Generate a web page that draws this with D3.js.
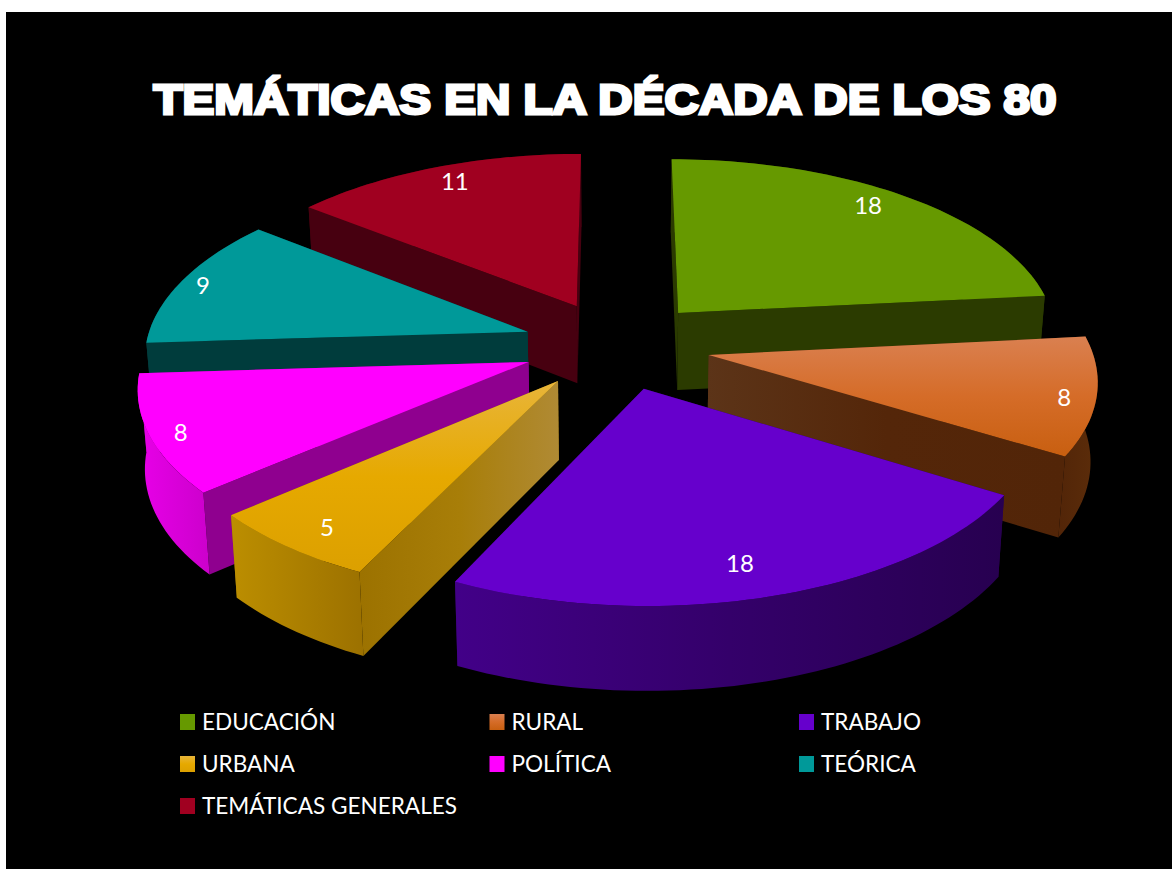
<!DOCTYPE html>
<html>
<head>
<meta charset="utf-8">
<script src="https://cdn.jsdelivr.net/npm/d3@7"></script>
<style>
  html, body { margin: 0; padding: 0; background: #fff; overflow: hidden; }
  svg { display: block; }
  text { font-family: Lato, "Open Sans", sans-serif; fill: #fff; }
</style>
</head>
<body>
<div id="chart"></div>
<script>
// data
const categories = ["EDUCACIÓN", "RURAL", "TRABAJO", "URBANA", "POLÍTICA", "TEÓRICA", "TEMÁTICAS GENERALES"];
const values = [18, 8, 18, 5, 8, 9, 11];
const titleText = "TEMÁTICAS EN LA DÉCADA DE LOS 80";

// colours: top face, outer rim, start wall, end wall
const topColors = ["#669900", "url(#g-rural)", "#6600cc", "url(#g-urbana)", "#ff00ff", "#009999", "#a00020"];
const rimColors = ["#2b3b00", "url(#g-rural-rim)", "url(#g-trabajo-rim)", "url(#g-urbana-rim)", "url(#g-politica-rim)", "#003c3c", "#470010"];
const startWallColors = ["#2b3b00", "#5a3015", "#2b0055", "url(#g-urbana-wall)", "#8f008f", "#003c3c", "#470010"];
const endWallColors = ["#2b3b00", "url(#g-rural-wall)", "#2b0055", "#8a6800", "#8f008f", "#003c3c", "#470010"];

// back to front
const drawOrder = [6, 5, 0, 4, 1, 3, 2];
// where the value label sits in its slice: share of the radius, degrees off the middle
const labelFractions = [0.885, 0.92, 0.846, 0.878, 0.924, 0.935, 0.89];
const labelAngleOffsets = [-2.6, 1, 1.8, -0.6, -0.8, -0.4, 1.2];

const width = 1172, height = 869;
const cx = 616.5, cy = 345;
const radius = 382, explode = 94, depth = 78;
const tilt = 0.47, persp = 0.000317, taper = 0.015;

const svg = d3.select("#chart").append("svg").attr("width", width).attr("height", height);

// =======================
// gradients
// =======================
const defs = svg.append("defs");
function addGradient(id, stops, vertical) {
    const g = defs.append("linearGradient").attr("id", id)
        .attr("x1", 0).attr("y1", 0)
        .attr("x2", vertical ? 0 : 1).attr("y2", vertical ? 1 : 0);
    stops.forEach((c, i) => g.append("stop").attr("offset", i / (stops.length - 1)).attr("stop-color", c));
}
addGradient("g-rural", ["#da8050", "#d56c28", "#c85f10"], true);
addGradient("g-urbana", ["#e8b53a", "#e6a900", "#dca000"], true);
addGradient("g-rural-wall", ["#5c3418", "#542609", "#522508"], false);
addGradient("g-rural-rim", ["#522508", "#5c2d0a"], false);
addGradient("g-trabajo-rim", ["#420088", "#34006a", "#270050"], false);
addGradient("g-urbana-rim", ["#bc8e00", "#9c7100"], false);
addGradient("g-urbana-wall", ["#9c7200", "#a87e08", "#b08a34"], false);
addGradient("g-politica-rim", ["#e800e8", "#cc00cc"], false);

svg.append("rect").attr("x", 6).attr("y", 12).attr("width", width - 6).attr("height", height - 12).attr("fill", "#000");

// =======================
// projection
// =======================
function project(u, v, z) {
    const s = 1 / (1 - persp * v);
    const shrink = 1 - taper * z / depth;
    return [cx + u * s * shrink, cy + tilt * v * s + z * (1 + s) / 2];
}

const line = d3.line();
const arcs = d3.pie().sort(null).startAngle(0).endAngle(2 * Math.PI)(values);

function pointOnSlice(d, angle, r, z) {
    const mid = (d.startAngle + d.endAngle) / 2;
    const u = explode * Math.sin(mid) + r * Math.sin(angle);
    const v = -explode * Math.cos(mid) - r * Math.cos(angle);
    return project(u, v, z);
}

function rimAngles(d) {
    const n = Math.ceil((d.endAngle - d.startAngle) * 40);
    return d3.range(n + 1).map(i => d.startAngle + (d.endAngle - d.startAngle) * i / n);
}

function meanY(points) { return d3.mean(points, p => p[1]); }

const slices = svg.append("g");

drawOrder.forEach(i => {
    const d = arcs[i];
    const g = slices.append("g").attr("class", "slice");
    const apexTop = pointOnSlice(d, 0, 0, 0), apexBottom = pointOnSlice(d, 0, 0, depth);
    const angles = rimAngles(d);
    const rimTop = angles.map(a => pointOnSlice(d, a, radius, 0));
    const rimBottom = angles.map(a => pointOnSlice(d, a, radius, depth));
    const last = rimTop.length - 1;

    const faces = [
        { top: [apexTop, rimTop[0]], pts: [apexTop, rimTop[0], rimBottom[0], apexBottom], fill: startWallColors[i] },
        { top: [apexTop, rimTop[last]], pts: [apexTop, rimTop[last], rimBottom[last], apexBottom], fill: endWallColors[i] },
        { top: rimTop, pts: rimTop.concat(rimBottom.slice().reverse()), fill: rimColors[i] }
    ];
    faces.sort((a, b) => meanY(a.top) - meanY(b.top));
    faces.forEach(f => g.append("path").attr("d", line(f.pts) + "Z").attr("fill", f.fill));

    g.append("path").attr("d", line([apexTop].concat(rimTop)) + "Z").attr("fill", topColors[i]);
});

// value labels
svg.append("g").selectAll("text").data(arcs).join("text")
    .attr("transform", (d, i) => {
        const mid = (d.startAngle + d.endAngle) / 2 + labelAngleOffsets[i] * Math.PI / 180;
        return `translate(${pointOnSlice(d, mid, radius * labelFractions[i], 0)})`;
    })
    .attr("text-anchor", "middle").attr("dominant-baseline", "central")
    .attr("font-size", 24)
    .text(d => d.value);

// =======================
// title
// =======================
svg.append("text").attr("x", 605).attr("y", 113.5)
    .attr("text-anchor", "middle")
    .attr("textLength", 903).attr("lengthAdjust", "spacingAndGlyphs")
    .style("font-family", "'Liberation Sans', Arial, sans-serif")
    .style("font-weight", 700).style("font-size", "43px")
    .attr("stroke", "#fff").attr("stroke-width", 3).attr("stroke-linejoin", "miter")
    .text(titleText);

// =======================
// legend
// =======================
const legendX = d3.scalePoint().domain([0, 1, 2]).range([180, 799]);
const legendY = d3.scalePoint().domain([0, 1, 2]).range([722, 806]);
const legend = svg.append("g").selectAll("g").data(categories).join("g")
    .attr("transform", (d, i) => `translate(${legendX(i % 3)},${legendY(Math.floor(i / 3))})`);
legend.append("rect").attr("x", 0).attr("y", -8).attr("width", 15).attr("height", 16)
    .attr("fill", (d, i) => topColors[i]);
legend.append("text").attr("x", 22).attr("y", -2).attr("dominant-baseline", "central")
    .attr("font-size", 24)
    .text(d => d)
    .each(function () {
        this.setAttribute("textLength", this.getComputedTextLength() * 0.94);
        this.setAttribute("lengthAdjust", "spacingAndGlyphs");
    });
</script>
</body>
</html>
